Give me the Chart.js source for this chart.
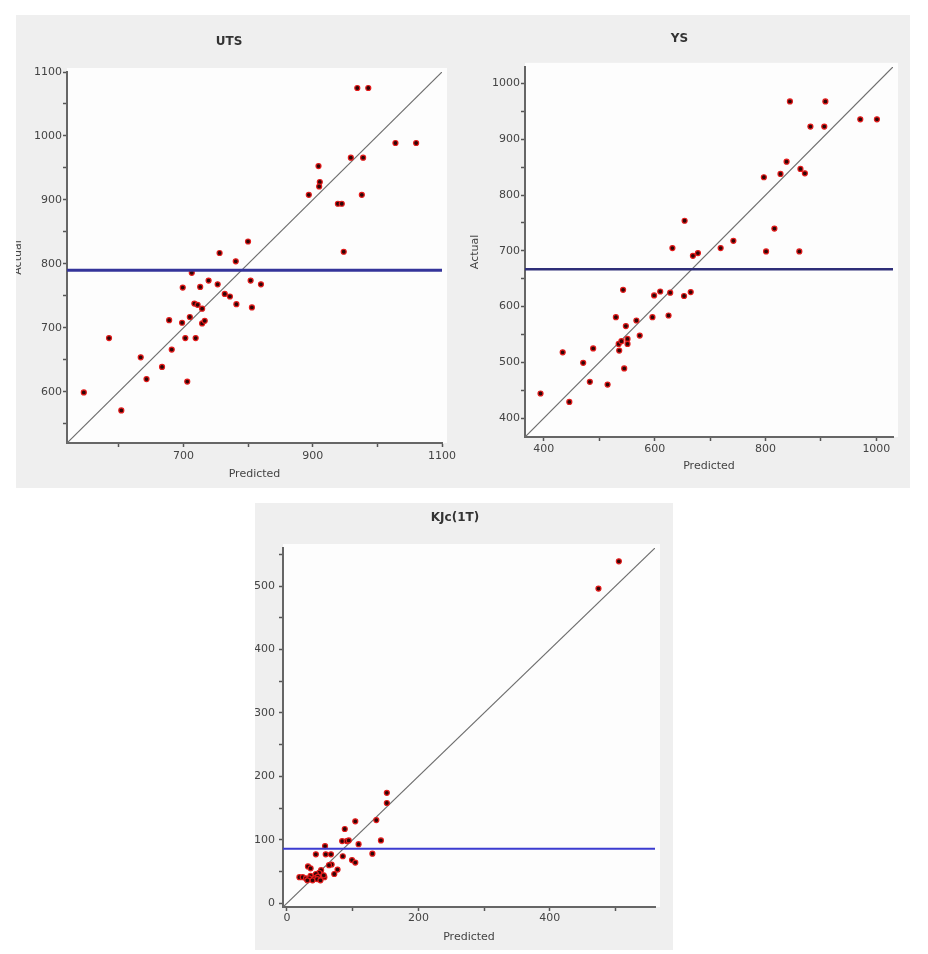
<!DOCTYPE html>
<html>
<head>
<meta charset="utf-8">
<script src="https://cdn.jsdelivr.net/npm/chart.js@4.4.1/dist/chart.umd.min.js"></script>
<style>
  body { margin: 0; background: #fff; width: 928px; height: 954px; position: relative; overflow: hidden; }
  canvas { position: absolute; background: #efefef; }
</style>
</head>
<body>
<canvas id="utsChart" width="450" height="473" style="left:16px;top:15px"></canvas>
<canvas id="ysChart" width="444" height="473" style="left:466px;top:15px"></canvas>
<canvas id="kjcChart" width="418" height="447" style="left:255px;top:503px"></canvas>
<script>
// UTS data
const utsRange = [520, 1100];
const utsMean = 790;
const utsXTicks = [600, 700, 800, 900, 1000, 1100];
const utsXLabels = [700, 900, 1100];
const utsYTicks = [550, 600, 650, 700, 750, 800, 850, 900, 950, 1000, 1050, 1100];
const utsYLabels = [600, 700, 800, 900, 1000, 1100];
const utsPredicted = [546, 585, 604, 634, 643, 667, 678, 682, 698, 699, 703, 706, 710, 713, 717, 719, 722, 726, 729, 729, 733, 739, 753, 756, 764, 772, 781, 782, 800, 804, 806, 820, 894, 909, 911, 910, 939, 945, 948, 959, 978, 976, 969, 986, 1028, 1060];
const utsActual    = [599, 684, 571, 654, 620, 639, 712, 666, 708, 763, 684, 616, 717, 786, 738, 684, 736, 764, 730, 707, 711, 774, 768, 817, 753, 749, 804, 737, 835, 774, 732, 768, 908, 953, 928, 921, 894, 894, 819, 966, 966, 908, 1075, 1075, 989, 989];

// YS data
const ysRange = [366, 1030];
const ysMean = 667;
const ysXTicks = [400, 500, 600, 700, 800, 900, 1000];
const ysXLabels = [400, 600, 800, 1000];
const ysYTicks = [400, 450, 500, 550, 600, 650, 700, 750, 800, 850, 900, 950, 1000];
const ysYLabels = [400, 500, 600, 700, 800, 900, 1000];
const ysPredicted = [394, 434, 446, 471, 483, 489, 515, 530, 535, 536, 540, 543, 545, 548, 551, 551, 567, 573, 596, 599, 610, 625, 628, 632, 653, 654, 665, 669, 678, 719, 742, 797, 801, 816, 827, 838, 844, 861, 863, 871, 881, 906, 908, 971, 1001];
const ysActual    = [444, 518, 429, 499, 465, 525, 460, 581, 533, 521, 538, 630, 489, 565, 542, 533, 575, 548, 581, 620, 627, 584, 625, 705, 619, 754, 626, 691, 696, 705, 718, 832, 699, 740, 838, 860, 968, 699, 847, 839, 923, 923, 968, 936, 936];

// KJc(1T) data
const kjcRange = [-6, 560];
const kjcMean = 86;
const kjcXTicks = [0, 100, 200, 300, 400, 500];
const kjcXLabels = [0, 200, 400];
const kjcYTicks = [0, 50, 100, 150, 200, 250, 300, 350, 400, 450, 500, 550];
const kjcYLabels = [0, 100, 200, 300, 400, 500];
const kjcPredicted = [152, 152, 136, 104, 88, 143, 109, 84, 91, 94, 58, 44, 59, 67, 130, 85, 99, 104, 68, 64, 32, 36, 77, 72, 52, 49, 44, 57, 36, 19, 24, 29, 34, 42, 47, 39, 46, 56, 51, 31, 474, 505];
const kjcActual    = [174, 158, 131, 129, 117, 99, 93, 98, 98, 99, 90, 77, 77, 77, 78, 74, 68, 64, 61, 60, 58, 55, 53, 46, 52, 48, 46, 41, 43, 41, 41, 39, 39, 39, 42, 36, 38, 44, 36, 36, 496, 539];

Chart.defaults.font.family = "'DejaVu Sans', sans-serif";
Chart.defaults.font.size = 11;
Chart.defaults.color = '#444';
Chart.defaults.animation = false;
Chart.defaults.plugins.legend.display = false;
Chart.defaults.plugins.tooltip.enabled = false;

// white plot area on the grey panel
const plotBg = {
    id: 'plotBg',
    beforeDraw(chart) {
        const { ctx, chartArea: a } = chart;
        ctx.save();
        ctx.fillStyle = '#fdfdfd';
        ctx.fillRect(a.left, a.top - 4, a.right - a.left + 5, a.bottom - a.top + 4);
        ctx.restore();
    }
};

function axisOpts(ticks, labels, pad, fit) {
    return {
        type: 'linear',
        afterBuildTicks: ax => { ax.ticks = ticks.map(v => ({ value: v })); },
        afterFit: fit,
        ticks: { padding: pad, autoSkip: false, maxRotation: 0, color: '#444', callback: v => labels.includes(v) ? String(v) : '' },
        grid: { drawOnChartArea: false, tickLength: 4, tickWidth: 1.5, color: '#555' },
        border: { display: true, color: '#666', width: 2 }
    };
}

function renderParityChart(canvasId, title, range, mean, pred, actual, xTicks, xLabels, yTicks, yLabels, lay) {
    const ctx = document.getElementById(canvasId);
    const [lo, hi] = range;
    const x = axisOpts(xTicks, xLabels, lay.xTickPad, ax => { ax.height = lay.xHeight; });
    x.min = lo; x.max = hi;
    x.title = { display: true, text: 'Predicted', color: '#444', padding: { top: 0, bottom: lay.xTitleBottom } };
    const y = axisOpts(yTicks, yLabels, lay.yTickPad, ax => { ax.width = lay.yWidth; });
    y.min = lo; y.max = hi; y.position = 'left';
    y.title = { display: lay.yTitle, text: 'Actual', color: '#444', padding: { top: lay.yTitleTop, bottom: 0 } };
    return new Chart(ctx, {
        type: 'scatter',
        data: {
            datasets: [
                { data: [{ x: lo, y: mean }, { x: hi, y: mean }], showLine: true, borderColor: lay.meanColor, borderWidth: lay.meanWidth, pointRadius: 0 },
                { data: pred.map((p, i) => ({ x: p, y: actual[i] })), pointRadius: 2.5, pointBackgroundColor: '#300505', pointBorderColor: '#e41b1b', pointBorderWidth: 1.2 },
                { data: [{ x: lo, y: lo }, { x: hi, y: hi }], showLine: true, borderColor: '#6e6e6e', borderWidth: 1.2, pointRadius: 0 }
            ]
        },
        options: {
            responsive: false,
            layout: { padding: { top: 0, left: 0, bottom: 0, right: lay.padRight } },
            plugins: {
                title: { display: true, text: title, color: '#333', font: { size: 12, weight: 'bold' }, padding: { top: lay.titleTop, bottom: lay.titleBottom } }
            },
            scales: { x, y }
        },
        plugins: [plotBg]
    });
}

renderParityChart('utsChart', 'UTS', utsRange, utsMean, utsPredicted, utsActual, utsXTicks, utsXLabels, utsYTicks, utsYLabels,
    { padRight: 24, xHeight: 45, yWidth: 51, xTickPad: 3, yTickPad: 1, xTitleBottom: 7, yTitle: true, yTitleTop: -4,
      titleTop: 20, titleBottom: 22.6, meanColor: '#34349a', meanWidth: 3 });

renderParityChart('ysChart', 'YS', ysRange, ysMean, ysPredicted, ysActual, ysXTicks, ysXLabels, ysYTicks, ysYLabels,
    { padRight: 17, xHeight: 51, yWidth: 59, xTickPad: 1.7, yTickPad: 1, xTitleBottom: 15, yTitle: true, yTitleTop: 3,
      titleTop: 16.5, titleBottom: 21, meanColor: '#2e2e78', meanWidth: 2.5 });

renderParityChart('kjcChart', 'KJc(1T)', kjcRange, kjcMean, kjcPredicted, kjcActual, kjcXTicks, kjcXLabels, kjcYTicks, kjcYLabels,
    { padRight: 18, xHeight: 43, yWidth: 28, xTickPad: 0.4, yTickPad: 4, xTitleBottom: 6.4, yTitle: false, yTitleTop: 0,
      titleTop: 7.8, titleBottom: 22.8, meanColor: '#3b3bd0', meanWidth: 2 });
</script>
</body>
</html>
